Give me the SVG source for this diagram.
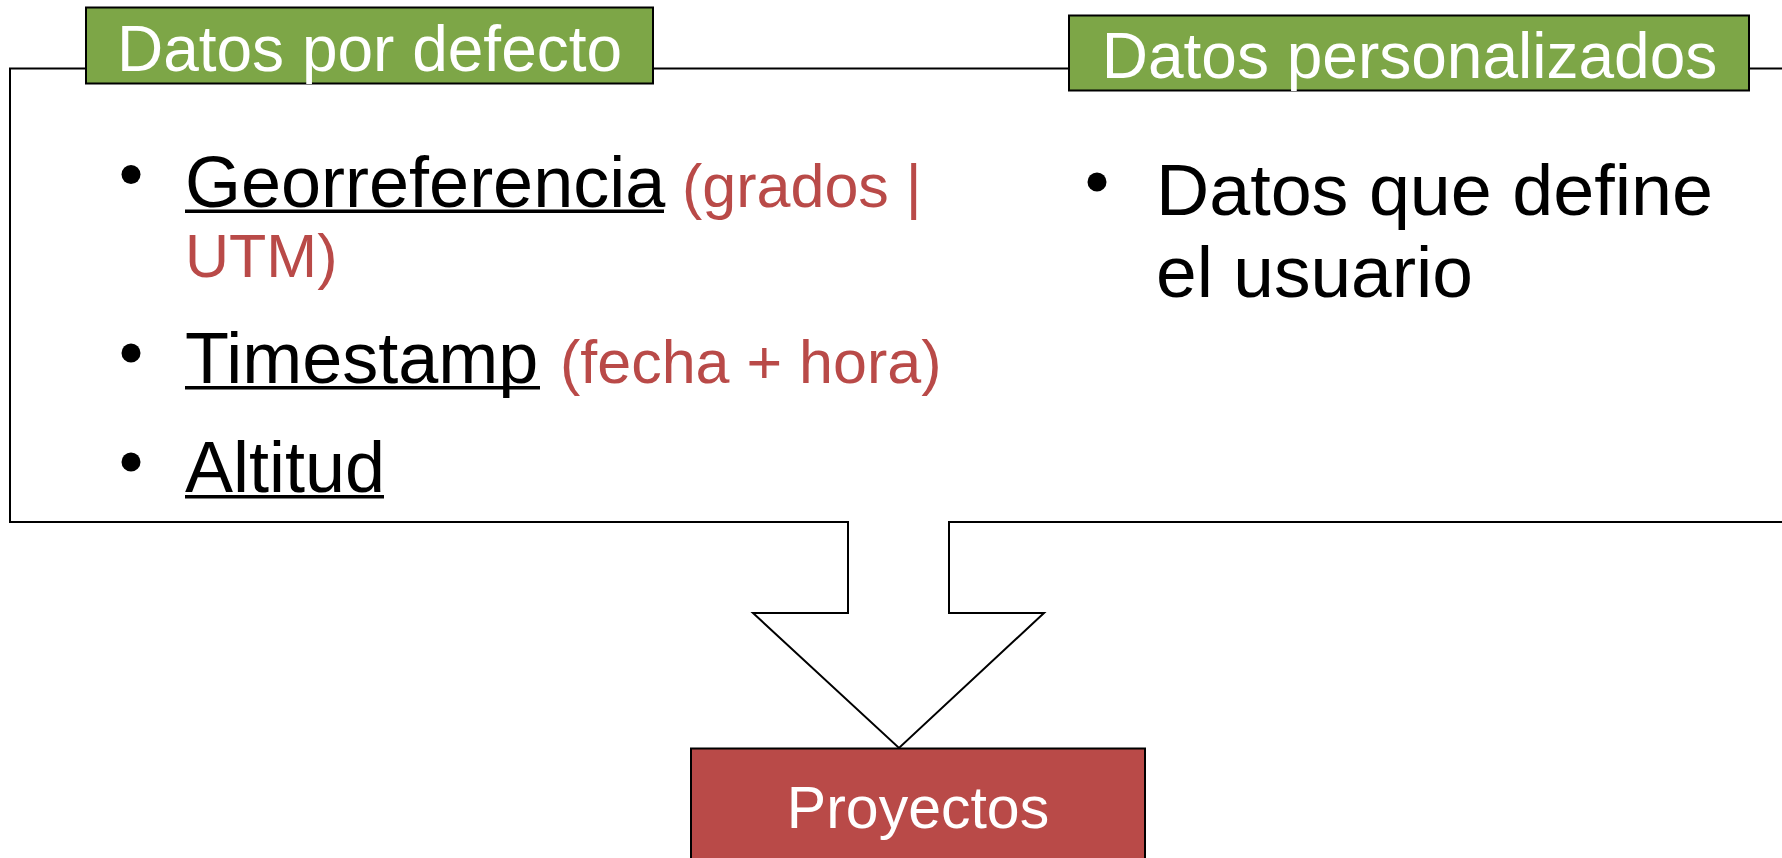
<svg xmlns="http://www.w3.org/2000/svg" width="1782" height="858" viewBox="0 0 1782 858">
<style>
text{font-family:"Liberation Sans",Arial,sans-serif}
.title{fill:#ffffff;font-size:64px;text-anchor:middle}
.blk{fill:#000000;font-size:72px}
.red{fill:#b94a48;font-size:61px}
.green{fill:#7da647;stroke:#000;stroke-width:2}
.line{fill:none;stroke:#000;stroke-width:2}
.ul{fill:#000}
</style>
<rect width="1782" height="858" fill="#ffffff"/>
<g id="connectors">
<path class="line" d="M1782,68.5 L10,68.5 L10,522 L848,522 L848,613 L753,613 L899,748 L1044,613 L949,613 L949,522 L1782,522"/>
</g>
<g id="datos-por-defecto">
<rect class="green" x="86" y="7.5" width="567" height="76"/>
<text class="title" x="369.5" y="70.7">Datos por defecto</text>
</g>
<g id="datos-personalizados">
<rect class="green" x="1069" y="15.5" width="680" height="75"/>
<text class="title" x="1409.5" y="78">Datos personalizados</text>
</g>
<g id="lista-defecto">
<circle cx="131" cy="174.5" r="9.5"/>
<text x="185" y="207"><tspan class="blk">Georreferencia</tspan><tspan class="red" x="682">(grados |</tspan></text>
<rect class="ul" x="185" y="209.5" width="479" height="3.5"/>
<text class="red" x="185" y="277">UTM)</text>
<circle cx="131" cy="353" r="9.5"/>
<text x="185" y="383"><tspan class="blk">Timestamp</tspan><tspan class="red" x="560">(fecha + hora)</tspan></text>
<rect class="ul" x="185" y="386" width="355" height="3.5"/>
<circle cx="131" cy="462" r="9.5"/>
<text class="blk" x="185" y="492">Altitud</text>
<rect class="ul" x="185" y="495" width="199" height="3.5"/>
</g>
<g id="lista-personalizados">
<circle cx="1097" cy="182" r="9.5"/>
<text class="blk" x="1156" y="215" font-size="73" textLength="557" lengthAdjust="spacingAndGlyphs">Datos que define</text>
<text class="blk" x="1156" y="297" font-size="73" textLength="317" lengthAdjust="spacingAndGlyphs">el usuario</text>
</g>
<g id="proyectos">
<rect x="691" y="748.5" width="454" height="120" fill="#b94a48" stroke="#000" stroke-width="2"/>
<text x="918" y="828" fill="#ffffff" font-size="59" text-anchor="middle">Proyectos</text>
</g>
</svg>
